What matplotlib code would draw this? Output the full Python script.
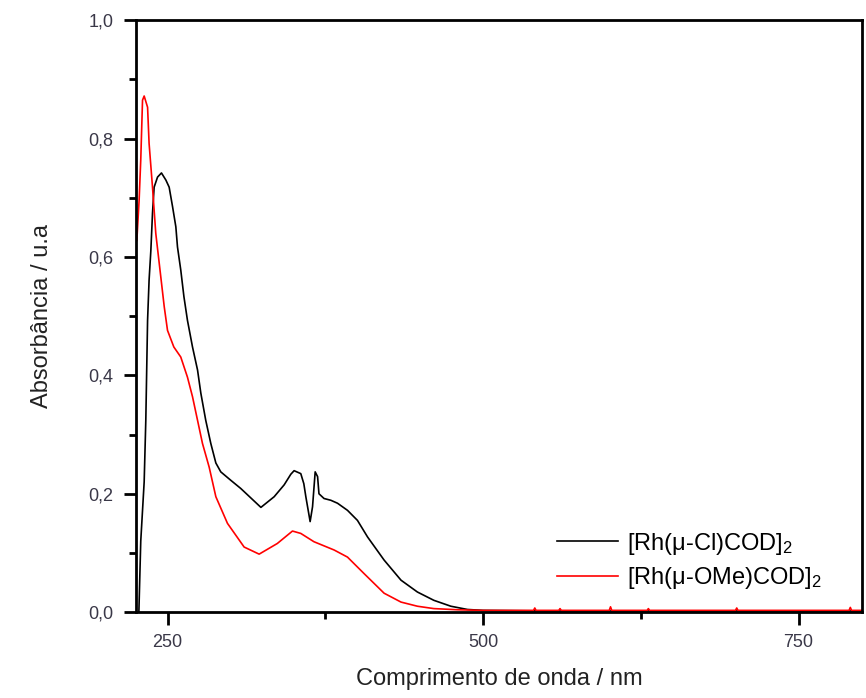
import numpy as np
import matplotlib
matplotlib.use("Agg")
import matplotlib.pyplot as plt
from matplotlib.ticker import MultipleLocator, FuncFormatter

plt.rcParams['font.family'] = ['Liberation Sans', 'DejaVu Sans']
plt.rcParams['mathtext.default'] = 'regular'

# [Rh(u-Cl)COD]2 - comprimento de onda (nm) e absorbancia
cl_nm = [227.3, 228.8, 231.5, 232.8, 234.2, 235.4, 236.8, 238.1, 239.4, 242.1,
         245.2, 248.7, 251.3, 254.0, 256.6, 257.9, 260.5, 263.0, 265.8, 269.8,
         273.8, 276.4, 280.3, 284.3, 288.3, 292.2, 300.0, 308.0, 316.0, 324.0,
         334.5, 342.4, 347.7, 350.3, 355.6, 358.0, 359.6, 363.0, 364.9, 367.0,
         368.9, 370.0, 374.0, 379.4, 384.7, 392.6, 400.5, 408.5, 421.6, 435.0,
         448.0, 461.0, 474.5, 487.7, 500.0, 550.0, 650.0, 800.0]
cl_abs = [0.0, 0.12, 0.22, 0.324, 0.493, 0.561, 0.611, 0.674, 0.718, 0.735,
          0.742, 0.73, 0.718, 0.685, 0.651, 0.617, 0.578, 0.533, 0.493, 0.448,
          0.409, 0.37, 0.324, 0.285, 0.252, 0.237, 0.223, 0.209, 0.193, 0.177,
          0.195, 0.215, 0.233, 0.239, 0.234, 0.217, 0.195, 0.153, 0.178, 0.237,
          0.229, 0.2, 0.192, 0.189, 0.184, 0.172, 0.155, 0.127, 0.088, 0.054,
          0.034, 0.020, 0.010, 0.0045, 0.003, 0.002, 0.002, 0.002]

# [Rh(u-OMe)COD]2
ome_nm = [225.7, 227.5, 228.8, 230.2, 231.5, 234.2, 235.4, 238.1, 240.7, 244.7,
          247.4, 250.0, 255.0, 260.5, 265.8, 269.8, 273.8, 277.7, 283.0, 288.3,
          297.5, 310.7, 322.6, 337.0, 349.0, 355.6, 366.0, 382.0, 392.6, 405.8,
          421.6, 435.0, 448.0, 461.0, 480.0, 500.0,
          540.0, 541.0, 542.0, 560.0, 561.0, 562.0, 600.0, 601.0, 602.0,
          630.0, 631.0, 632.0, 700.0, 701.0, 702.0, 790.0, 791.0, 792.0, 800.0]
ome_abs = [0.628, 0.696, 0.764, 0.865, 0.872, 0.853, 0.792, 0.718, 0.64, 0.566,
           0.516, 0.476, 0.448, 0.431, 0.397, 0.364, 0.324, 0.285, 0.245, 0.195,
           0.15, 0.11, 0.098, 0.116, 0.137, 0.133, 0.119, 0.105, 0.093, 0.065,
           0.032, 0.017, 0.010, 0.006, 0.004, 0.003,
           0.003, 0.007, 0.003, 0.003, 0.006, 0.003, 0.003, 0.009, 0.003,
           0.003, 0.006, 0.003, 0.003, 0.007, 0.003, 0.003, 0.008, 0.003, 0.003]

fig = plt.figure(figsize=(8.66, 6.98), dpi=100)
ax = fig.add_axes([0.157, 0.123, 0.838, 0.848])

ax.plot(cl_nm, cl_abs, color='black', lw=1.2, label=r'[Rh($\mu$-Cl)COD]$_2$')
ax.plot(ome_nm, ome_abs, color='red', lw=1.2, label=r'[Rh($\mu$-OMe)COD]$_2$')

ax.set_xlim(225, 800)
ax.set_ylim(0, 1.0)
ax.xaxis.set_major_locator(MultipleLocator(250))
ax.xaxis.set_minor_locator(MultipleLocator(125))
ax.yaxis.set_major_locator(MultipleLocator(0.2))
ax.yaxis.set_minor_locator(MultipleLocator(0.1))
ax.yaxis.set_major_formatter(FuncFormatter(lambda v, p: f"{v:.1f}".replace('.', ',')))

for s in ax.spines.values():
    s.set_linewidth(2)
ax.tick_params(which='major', direction='out', length=9, width=2,
               labelsize=13, labelcolor='#3a3848', pad=7)
ax.tick_params(which='minor', direction='out', length=5, width=2)

ax.set_xlabel('Comprimento de onda / nm', fontsize=17, color='#222222', labelpad=12)
ax.set_ylabel('Absorbância / u.a', fontsize=17, color='#222222', labelpad=26)

ax.legend(loc='lower right', bbox_to_anchor=(0.975, 0.0), frameon=False,
          fontsize=17, handlelength=2.6, handletextpad=0.4, labelspacing=0.35)

fig.savefig('out.png', dpi=100)
